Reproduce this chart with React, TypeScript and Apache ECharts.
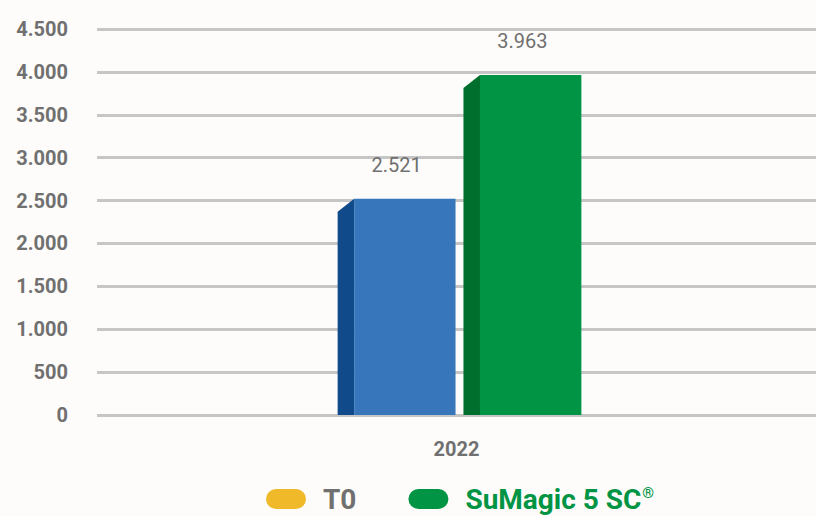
import React, { useEffect, useRef } from "react";
import * as echarts from "echarts";

const categories = ["2022"];
const seriesNames = ["T0", "SuMagic 5 SC®"];
const t0Values = [2521];
const sumagicValues = [3963];
const yTicks = { min: 0, max: 4500, interval: 500 };

const FONT = "Roboto, 'Noto Sans', sans-serif";
const GRAY = "#707070";
const GREEN = "#009444";

const fmt = (v: number) =>
  String(Math.round(v)).replace(/\B(?=(\d{3})+(?!\d))/g, ".");

function makeRender(frontColor: string, sideColor: string, slot: number) {
  return (params: any, api: any) => {
    const xIdx = api.value(0);
    const val = api.value(1);
    const base = api.coord([xIdx, 0]);
    const top = api.coord([xIdx, val]);
    const band = api.size([1, 0])[0];
    const frontW = band * 0.141;
    const sideW = band * 0.023;
    const gap = band * 0.011;
    const depth = 13;
    const cx = base[0] + 3;
    const groupW = 2 * (sideW + frontW) + gap;
    const start = cx - groupW / 2 + slot * (sideW + frontW + gap);
    const sideX = start;
    const frontX = start + sideW;
    const y0 = base[1];
    const yTop = top[1];
    return {
      type: "group",
      children: [
        {
          type: "polygon",
          shape: {
            points: [
              [sideX, y0],
              [sideX, yTop + depth],
              [frontX, yTop],
              [frontX, y0],
            ],
          },
          style: { fill: sideColor },
        },
        {
          type: "rect",
          shape: { x: frontX, y: yTop, width: frontW, height: y0 - yTop },
          style: { fill: frontColor },
        },
        {
          type: "text",
          style: {
            text: fmt(val),
            x: start + (sideW + frontW) / 2,
            y: yTop - 34,
            align: "center",
            verticalAlign: "middle",
            fill: GRAY,
            font: `normal 20px ${FONT}`,
          },
        },
      ],
    };
  };
}

const pill = "path://M10,0 H30 A10,10 0 0 1 30,20 H10 A10,10 0 0 1 10,0 Z";

export default function App() {
  const ref = useRef<HTMLDivElement>(null);
  useEffect(() => {
    if (!ref.current) return;
    const chart = echarts.init(ref.current, undefined, { renderer: "svg" });
    chart.setOption({
      animation: false,
      backgroundColor: "#fdfcfa",
      grid: { left: 97, right: 0, top: 29, bottom: 101 },
      legend: {
        bottom: -2,
        left: 261,
        itemWidth: 40,
        itemHeight: 20,
        itemGap: 52,
        icon: pill,
        selectedMode: false,
        data: [
          {
            name: seriesNames[0],
            itemStyle: { color: "#F0B92A" },
            textStyle: { color: GRAY },
          },
          {
            name: seriesNames[1],
            itemStyle: { color: GREEN },
            textStyle: { color: GREEN },
          },
        ],
        formatter: (name: string) =>
          name.endsWith("®") ? `${name.slice(0, -1)}{sup|®}` : name,
        textStyle: {
          fontFamily: FONT,
          fontWeight: "bold",
          fontSize: 28,
          padding: [0, 0, 0, 12],
          rich: {
            sup: {
              fontFamily: FONT,
              fontWeight: "bold",
              fontSize: 15,
              color: GREEN,
              verticalAlign: "top",
              padding: [0, 0, 8, 1],
            },
          },
        },
      },
      xAxis: {
        type: "category",
        data: categories,
        axisLine: { show: false },
        axisTick: { show: false },
        axisLabel: {
          color: GRAY,
          fontFamily: FONT,
          fontWeight: "bold",
          fontSize: 20,
          margin: 24,
        },
      },
      yAxis: {
        type: "value",
        min: yTicks.min,
        max: yTicks.max,
        interval: yTicks.interval,
        axisLine: { show: false },
        axisTick: { show: false },
        splitLine: { lineStyle: { color: "#c6c6c6", width: 3 } },
        axisLabel: {
          color: GRAY,
          fontFamily: FONT,
          fontWeight: "bold",
          fontSize: 20,
          margin: 29,
          formatter: (v: number) => fmt(v),
        },
      },
      series: [
        {
          name: seriesNames[0],
          type: "custom",
          itemStyle: { color: "#F0B92A" },
          renderItem: makeRender("#3776BB", "#114A8B", 0),
          data: t0Values.map((v, i) => [i, v]),
          encode: { x: 0, y: 1 },
        },
        {
          name: seriesNames[1],
          type: "custom",
          itemStyle: { color: GREEN },
          renderItem: makeRender(GREEN, "#006F2E", 1),
          data: sumagicValues.map((v, i) => [i, v]),
          encode: { x: 0, y: 1 },
        },
      ],
    });
    return () => chart.dispose();
  }, []);
  return <div ref={ref} style={{ width: 816, height: 516, position: "absolute", left: 0, top: 0 }} />;
}
